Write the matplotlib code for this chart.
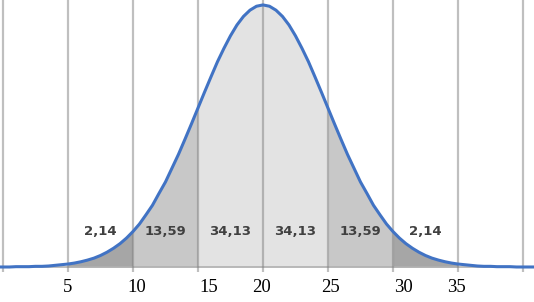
import matplotlib
matplotlib.use("Agg")
import matplotlib.pyplot as plt

# normal curve heights (density x 100), every 0.5 from -0.5 to 41
xs = [i * 0.5 for i in range(-1, 83)]
left = [0.00, 0.00, 0.00, 0.01, 0.01, 0.01, 0.02, 0.02, 0.03, 0.05,
        0.07, 0.09, 0.12, 0.16, 0.21, 0.27, 0.35, 0.45, 0.57, 0.71,
        0.88, 1.08, 1.31, 1.59, 1.88, 2.24, 2.59, 3.01, 3.43, 3.89,
        4.36, 4.84, 5.32, 5.79, 6.25, 6.66, 7.04, 7.37, 7.63, 7.82,
        7.94]
peak = [7.98]
right = [7.94, 7.82, 7.63, 7.37, 7.04, 6.66, 6.25, 5.79, 5.32, 4.84,
         4.36, 3.89, 3.43, 3.01, 2.59, 2.24, 1.88, 1.59, 1.31, 1.08,
         0.88, 0.71, 0.57, 0.45, 0.35, 0.27, 0.21, 0.16, 0.12, 0.09,
         0.07, 0.05, 0.03, 0.02, 0.02, 0.01, 0.01, 0.01, 0.00, 0.00,
         0.00, 0.00]
ys = left + peak + right

bands = [(5, 10), (10, 15), (15, 25), (25, 30), (30, 35)]
band_colors = ["#a6a6a6", "#c8c8c8", "#e3e3e3", "#c8c8c8", "#a6a6a6"]

pct_labels = ["2,14", "13,59", "34,13", "34,13", "13,59", "2,14"]
pct_x = [7.5, 12.5, 17.5, 22.5, 27.5, 32.5]

grid_x = [0, 5, 10, 15, 20, 25, 30, 35, 40]
tick_labels = ["5", "10", "15", "20", "25", "30", "35"]
tick_x = [5.0, 10.3, 15.8, 19.9, 25.2, 30.8, 34.9]

fig = plt.figure(figsize=(5.34, 3.02), dpi=100)
ax = fig.add_axes([0, 0, 1, 1])
ax.set_xlim(-0.23, 40.85)
ax.set_ylim(-1.066, 8.13)
ax.axis("off")

for (a, b), c in zip(bands, band_colors):
    pts = [(x, y) for x, y in zip(xs, ys) if a <= x <= b]
    ax.fill_between([p[0] for p in pts], 0, [p[1] for p in pts],
                    color=c, lw=0, zorder=1)

ax.axhline(0, color="#b0b0b0", lw=1.2, zorder=2)
ax.vlines(grid_x, -0.15, 8.13, color="#808080", alpha=0.5, lw=1.6, zorder=3)

ax.plot(xs, ys, color="#4173c4", lw=2.2, solid_joinstyle="round", zorder=4)

for x, t in zip(pct_x, pct_labels):
    ax.text(x, 1.07, t, ha="center", va="center", fontsize=9.5,
            fontweight="bold", color="#404040", family="DejaVu Sans", zorder=5)

for x, t in zip(tick_x, tick_labels):
    ax.text(x, -0.61, t, ha="center", va="center", fontsize=13.5,
            family="Liberation Serif", color="black")

fig.savefig("out.png", dpi=100)
